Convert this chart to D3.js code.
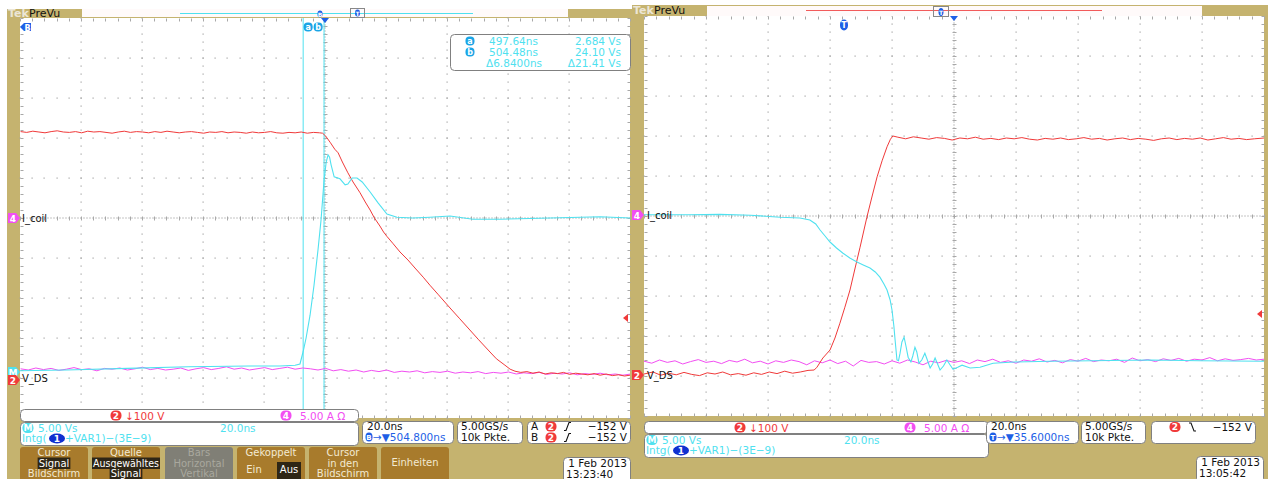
<!DOCTYPE html>
<html>
<head>
<meta charset="utf-8">
<script src="https://cdn.jsdelivr.net/npm/d3@7"></script>
<style>
  body { margin: 0; background: #fff; }
  svg { display: block; }
  text { font-family: "DejaVu Sans", sans-serif; }
</style>
</head>
<body>
<svg id="scope"></svg>
<script>
// ---- values (time in ns, amplitude in divisions) ----
var timePerDiv = 20;
var leftCenterNs = 504.8, rightCenterNs = 35.6;

// left screen, ch2 V_DS (red)
var leftRed = [
    [405,2.16],[407,2.14],[409,2.17],[411,2.15],[413,2.13],[415,2.16],[417,2.18],[419,2.15],[421,2.14],[423,2.16],
    [425,2.13],[427,2.17],[429,2.15],[431,2.16],[433,2.14],[435,2.12],[437,2.15],[439,2.17],[441,2.14],[443,2.16],
    [445,2.15],[447,2.13],[449,2.16],[451,2.14],[453,2.17],[455,2.15],[457,2.13],[459,2.15],[461,2.16],[463,2.14],
    [465,2.12],[467,2.15],[469,2.14],[471,2.16],[473,2.13],[475,2.15],[477,2.14],[479,2.12],[481,2.15],[483,2.13],
    [485,2.14],[487,2.16],[489,2.13],[491,2.12],[493,2.14],[495,2.13],[497,2.15],[499,2.12],[501,2.14],[503,2.13],
    [504,2.12],[505,2.05],[506.6,1.88],[508,1.72],[509.1,1.63],[510.5,1.4],[512.3,1.13],[514,0.9],[516.3,0.63],
    [518,0.4],[519.6,0.2],[521,0.0],[522.8,-0.2],[524,-0.35],[525.1,-0.46],[527,-0.63],[529.4,-0.85],[532,-1.05],
    [534.3,-1.25],[537,-1.48],[539.2,-1.68],[542,-1.92],[545.8,-2.25],[549,-2.52],[552.3,-2.8],[555,-3.03],
    [558.9,-3.35],[561,-3.52],[563.8,-3.68],[565.5,-3.78],[567.1,-3.83],
    [569,-3.86],[571,-3.84],[573,-3.88],[575,-3.85],[577,-3.9],[579,-3.87],[581,-3.89],[583,-3.86],[585,-3.91],
    [587,-3.88],[589,-3.9],[591,-3.92],[593,-3.89],[595,-3.93],[597,-3.9],[599,-3.94],[601,-3.92],[603,-3.95],[604.8,-3.93]
];
// left screen, math Intg(...) (cyan)
var leftCyan = [
    [404.8,-3.82],[420,-3.8],[440,-3.76],[460,-3.72],[480,-3.7],[490,-3.7],[495,-3.68],[496.6,-3.65],[497.6,-3.35],
    [498.6,-3.0],[499.9,-2.43],[501.2,-1.68],[502.5,-0.8],[503.5,-0.05],[504.5,0.95],[505.2,1.4],[505.8,1.58],
    [506.3,1.52],[506.8,1.33],[507.8,1.03],[509.7,0.98],[511.4,0.83],[512.3,0.85],[513.7,1.0],[515.3,1.0],[517,0.9],
    [519.6,0.65],[522.2,0.38],[525.1,0.1],[528.4,0.02],[533.6,0.0],[539.2,0.02],[545.8,0.05],[553.3,-0.03],
    [562.2,-0.03],[578.6,0.0],[595,0.03],[604.8,0.0]
];
// left screen, ch4 I_coil (magenta), one sample every 2.5 ns from 405 ns
var magStep = 2.5;
var leftMagStart = 405;
var leftMag = [
    -3.77,-3.8,-3.75,-3.79,-3.76,-3.81,-3.78,-3.74,-3.79,-3.77,-3.82,-3.76,-3.78,-3.75,-3.8,-3.77,-3.73,-3.79,-3.76,-3.8,
    -3.78,-3.75,-3.81,-3.77,-3.74,-3.79,-3.76,-3.72,-3.78,-3.75,-3.8,-3.77,-3.74,-3.79,-3.76,-3.73,-3.78,-3.75,-3.77,
    -3.8,-3.76,-3.82,-3.79,-3.83,-3.8,-3.85,-3.81,-3.84,-3.8,-3.86,-3.83,-3.85,-3.82,-3.87,-3.84,-3.86,-3.83,-3.88,-3.85,
    -3.87,-3.84,-3.89,-3.86,-3.88,-3.85,-3.9,-3.87,-3.89,-3.86,-3.91,-3.88,-3.9,-3.87,-3.92,-3.89,-3.91,-3.88,-3.92,-3.9,
    -3.93,-3.9
];

// right screen, ch2 V_DS (red)
var rightRed = [
    [-64.4,-3.95],[-61.5,-3.9],[-59,-3.98],[-56.5,-3.93],[-54,-3.97],[-51.5,-3.91],[-49,-3.96],[-46.5,-3.99],[-44,-3.92],
    [-41.5,-3.95],[-39,-3.9],[-36.5,-3.97],[-34,-3.94],[-31.5,-3.98],[-29,-3.92],[-26.5,-3.96],[-24,-3.9],[-21.5,-3.94],
    [-19,-3.88],[-16.5,-3.93],[-14,-3.9],[-11.5,-3.86],
    [-9.5,-3.85],[-8.6,-3.78],[-6.7,-3.55],[-4.4,-3.35],[-2.8,-3.05],[-1.2,-2.68],[0.4,-2.28],[2.05,-1.85],[3.7,-1.3],
    [5.3,-0.78],[7.5,-0.03],[9.2,0.5],[10.8,0.98],[12.4,1.38],[14.0,1.73],[15.1,1.92],[15.9,2.0],
    [17.5,1.97],[20,1.93],[22.5,1.98],[25,1.95],[27.5,1.92],[30,1.96],[32.5,1.94],[35,1.9],[37.5,1.95],[40,1.93],
    [42.5,1.97],[45,1.92],[47.5,1.94],[50,1.91],[52.5,1.95],[55,1.93],[57.5,1.96],[60,1.92],[62.5,1.9],[65,1.94],
    [67.5,1.92],[70,1.95],[72.5,1.91],[75,1.93],[77.5,1.96],[80,1.92],[82.5,1.94],[85,1.9],[87.5,1.93],[90,1.95],
    [92.5,1.91],[95,1.94],[97.5,1.92],[100,1.89],[102.5,1.93],[105,1.95],[107.5,1.91],[110,1.94],[112.5,1.92],[115,1.95],
    [117.5,1.9],[120,1.93],[122.5,1.96],[125,1.92],[127.5,1.94],[130,1.91],[132.5,1.93],[135.6,1.95]
];
// right screen, math (cyan)
var rightCyan = [
    [-64.4,0.03],[-50,0.03],[-40,0.04],[-30,0.02],[-20.5,-0.03],[-14.1,-0.05],[-10.9,-0.1],[-9,-0.2],[-7.6,-0.35],
    [-6,-0.5],[-4.4,-0.65],[-2.3,-0.8],[-0.2,-0.93],[2,-1.05],[4.3,-1.15],[6.5,-1.23],[8.5,-1.3],[10.2,-1.4],
    [11.7,-1.53],[13,-1.7],[14.0,-1.85],[15,-2.1],[15.6,-2.35],[16.2,-2.75],[16.6,-3.1],[17.2,-3.6],[17.7,-3.62],
    [18.2,-3.43],[18.8,-3.15],[19.5,-3.03],[20.1,-3.25],[20.8,-3.53],[21.7,-3.65],[22.3,-3.5],[23.0,-3.28],[23.6,-3.4],
    [24.3,-3.68],[25.2,-3.6],[26.2,-3.43],[27,-3.6],[27.9,-3.8],[28.7,-3.7],[29.5,-3.55],[30.3,-3.7],[31.1,-3.85],
    [32.2,-3.75],[33.3,-3.6],[34.3,-3.72],[35.3,-3.83],[36.8,-3.78],[38.2,-3.73],[40.8,-3.8],[44.0,-3.78],[48.2,-3.68],
    [55,-3.65],[66.6,-3.63],[80,-3.62],[98.8,-3.6],[115,-3.62],[135.6,-3.63]
];
// right screen, ch4 (magenta), one sample every 2.5 ns from -64.4 ns
var rightMagStart = -64.4;
var rightMag = [
    -3.63,-3.68,-3.6,-3.66,-3.62,-3.7,-3.64,-3.59,-3.66,-3.63,-3.69,-3.61,-3.65,-3.58,-3.67,-3.63,-3.7,-3.62,-3.66,-3.6,
    -3.64,-3.72,-3.62,-3.67,-3.6,-3.69,-3.63,-3.75,-3.61,-3.66,-3.64,-3.7,-3.62,-3.68,-3.6,-3.65,-3.72,-3.63,-3.67,-3.61,
    -3.66,-3.62,-3.69,-3.6,-3.64,-3.58,-3.66,-3.62,-3.68,-3.6,-3.63,-3.57,-3.65,-3.61,-3.67,-3.59,-3.63,-3.56,-3.64,-3.6,
    -3.62,-3.58,-3.66,-3.55,-3.62,-3.59,-3.64,-3.57,-3.61,-3.56,-3.63,-3.58,-3.6,-3.54,-3.62,-3.57,-3.61,-3.59,-3.56,-3.6,
    -3.58
];

// cursors (left screen) and trigger level marks
var cursorNs = [497.64, 504.48];
var cursorRows = [["497.64ns", "2.684 Vs"], ["504.48ns", "24.10 Vs"], ["\u03946.8400ns", "\u039421.41 Vs"]];
var trigLevelDiv = [-2.5, -2.45];
var dates = [["1 Feb  2013", "13:23:40"], ["1 Feb  2013", "13:05:42"]];
var delays = ["\u2192\u25BC504.800ns", "\u2192\u25BC35.6000ns"];

var col = {
    tan: "#c5b36f", btn: "#a87b2c", btnText: "#f3ead2", grey: "#807f76",
    red: "#f03a3a", cyan: "#4fe1ef", mag: "#f24ef2", blue: "#1e5fe6",
    dot: "#a4a4a4", box: "#808080", text: "#111"
};

var svg = d3.select("#scope").attr("width", 1268).attr("height", 479);

// tan frames
svg.append("rect").attr("x", 7).attr("y", 9).attr("width", 625).attr("height", 470).attr("fill", col.tan);
svg.append("rect").attr("x", 632).attr("y", 5).attr("width", 636).attr("height", 474).attr("fill", col.tan);

var panels = [
    {x0: 20, y0: 18, w: 610, h: 400, tc: leftCenterNs, red: leftRed, cyan: leftCyan, mag: leftMag, magStart: leftMagStart, trig: trigLevelDiv[0]},
    {x0: 644, y0: 16, w: 620, h: 400, tc: rightCenterNs, red: rightRed, cyan: rightCyan, mag: rightMag, magStart: rightMagStart, trig: trigLevelDiv[1]}
];

function drawPanel(p, k) {
    var g = svg.append("g");
    var x = d3.scaleLinear().domain([p.tc - 5 * timePerDiv, p.tc + 5 * timePerDiv]).range([p.x0, p.x0 + p.w]);
    var y = d3.scaleLinear().domain([-5, 5]).range([p.y0 + p.h, p.y0]);
    p.x = x; p.y = y;

    g.append("rect").attr("x", p.x0).attr("y", p.y0).attr("width", p.w).attr("height", p.h).attr("fill", "#fff");

    // graticule: dotted major lines, ticked centre cross, edge ticks
    var t0 = p.tc - 5 * timePerDiv;
    var minorT = d3.range(0, 51).map(function (i) { return t0 + i * timePerDiv / 5; });
    var minorV = d3.range(0, 51).map(function (i) { return -5 + i * 0.2; });
    var dots = [];
    d3.range(1, 10).forEach(function (i) {
        if (i === 5) return;
        var tx = x(t0 + i * timePerDiv);
        minorV.forEach(function (v) { dots.push([tx, y(v)]); });
    });
    d3.range(-4, 5).forEach(function (v) {
        if (v === 0) return;
        minorT.forEach(function (t) { dots.push([x(t), y(v)]); });
    });
    g.selectAll(".dot").data(dots).enter().append("rect")
        .attr("x", function (d) { return Math.round(d[0]) - 0.5; })
        .attr("y", function (d) { return Math.round(d[1]) - 0.5; })
        .attr("width", 1.2).attr("height", 1.2).attr("fill", col.dot);

    var cx = x(p.tc), cy = y(0);
    g.append("line").attr("x1", p.x0).attr("x2", p.x0 + p.w).attr("y1", cy).attr("y2", cy)
        .attr("stroke", "#c4c4c4").attr("stroke-dasharray", "2,1");
    g.append("line").attr("x1", cx).attr("x2", cx).attr("y1", p.y0).attr("y2", p.y0 + p.h)
        .attr("stroke", "#c4c4c4").attr("stroke-dasharray", "2,1");
    var ticks = [];
    minorT.forEach(function (t) {
        ticks.push([x(t), cy - 2, x(t), cy + 2]);
        ticks.push([x(t), p.y0, x(t), p.y0 + 3]);
        ticks.push([x(t), p.y0 + p.h - 3, x(t), p.y0 + p.h]);
    });
    minorV.forEach(function (v) {
        ticks.push([cx - 2, y(v), cx + 2, y(v)]);
        ticks.push([p.x0, y(v), p.x0 + 3, y(v)]);
        ticks.push([p.x0 + p.w - 3, y(v), p.x0 + p.w, y(v)]);
    });
    g.selectAll(".tick").data(ticks).enter().append("line")
        .attr("x1", function (d) { return Math.round(d[0]) + 0.5; })
        .attr("y1", function (d) { return Math.round(d[1]) + 0.5; })
        .attr("x2", function (d) { return Math.round(d[2]) + 0.5; })
        .attr("y2", function (d) { return Math.round(d[3]) + 0.5; })
        .attr("stroke", "#a8a8a8").attr("stroke-width", 1);

    // traces
    var clipId = "clip" + k;
    svg.append("clipPath").attr("id", clipId).append("rect")
        .attr("x", p.x0).attr("y", p.y0).attr("width", p.w).attr("height", p.h);
    var tg = g.append("g").attr("clip-path", "url(#" + clipId + ")");

    var line = d3.line().x(function (d) { return x(d[0]); }).y(function (d) { return y(d[1]); });
    var magPts = p.mag.map(function (v, i) { return [p.magStart + i * magStep, v]; });

    if (k === 0) {
        cursorNs.forEach(function (t) {
            tg.append("line").attr("x1", x(t)).attr("x2", x(t)).attr("y1", p.y0).attr("y2", p.y0 + p.h)
                .attr("stroke", col.cyan).attr("stroke-width", 1);
        });
    }
    tg.append("path").attr("d", line(magPts)).attr("fill", "none").attr("stroke", col.mag).attr("stroke-width", 1);
    tg.append("path").attr("d", line(p.red)).attr("fill", "none").attr("stroke", col.red).attr("stroke-width", 1);
    tg.append("path").attr("d", line(p.cyan)).attr("fill", "none").attr("stroke", col.cyan).attr("stroke-width", 1.1);

    // trigger position mark and trigger level arrow
    g.append("path").attr("d", "M" + (cx - 4) + "," + p.y0 + " h8 l-4,5 z").attr("fill", col.blue);
    var ty = y(p.trig), rx = p.x0 + p.w;
    g.append("path").attr("d", "M" + (rx - 7) + "," + ty + " l5,-4 v8 z").attr("fill", col.red);
    return g;
}

function badge(g, cx, cy, label, fill, w, h, fs) {
    w = w || 11; h = h || 10;
    g.append("rect").attr("x", cx - w / 2).attr("y", cy - h / 2).attr("width", w).attr("height", h)
        .attr("rx", h / 2.2).attr("fill", fill);
    g.append("text").attr("x", cx).attr("y", cy + 3.4).attr("text-anchor", "middle")
        .attr("font-size", fs || 9).attr("font-weight", "bold").attr("fill", "#fff").text(label);
}

function txt(g, x, y, s, fill, size, anchor) {
    return g.append("text").attr("x", x).attr("y", y).attr("fill", fill || col.text)
        .attr("font-size", size || 10).attr("text-anchor", anchor || "start").text(s);
}

function box(g, x, y, w, h) {
    g.append("rect").attr("x", x + 0.5).attr("y", y + 0.5).attr("width", w).attr("height", h)
        .attr("rx", 4).attr("fill", "#fff").attr("stroke", col.box);
}

function chMarker(g, x, cy, fill, label) {
    g.append("path").attr("d", "M" + x + "," + (cy - 5) + " h8 l4,5 l-4,5 h-8 z").attr("fill", fill);
    g.append("text").attr("x", x + 5).attr("y", cy + 3.5).attr("text-anchor", "middle")
        .attr("font-size", 9).attr("font-weight", "bold").attr("fill", "#fff").text(label);
}

function edgeIcon(g, x, y, rising) {
    var d = rising ? "M" + x + "," + (y + 4) + " h2 l3,-8 h2" : "M" + x + "," + (y - 4) + " h2 l3,8 h2";
    g.append("path").attr("d", d).attr("fill", "none").attr("stroke", "#111").attr("stroke-width", 1.1);
}

panels.forEach(function (p, k) { drawPanel(p, k); });

var overlay = svg.append("g");
// ---- top record bars ----
[[8, 17, 82, 9, 486, 8], [633, 14, 707, 6, 495, 10]].forEach(function (b, k) {
    txt(overlay, b[0], b[1], "Tek", "#ece6d6", 11).attr("font-weight", "bold");
    txt(overlay, b[0] + 21, b[1], "PreVu", "#111", 11);
    overlay.append("rect").attr("x", b[2]).attr("y", b[3]).attr("width", b[4]).attr("height", b[5]).attr("fill", "#fffafa");
});
overlay.append("line").attr("x1", 180).attr("x2", 473).attr("y1", 13.5).attr("y2", 13.5).attr("stroke", col.cyan);
overlay.append("rect").attr("x", 350.5).attr("y", 8.5).attr("width", 14).attr("height", 9).attr("fill", "none").attr("stroke", "#888");
badge(overlay, 357.5, 13, "T", col.blue, 5, 7, 6);
badge(overlay, 320, 14, "B", col.blue, 5, 7, 6);
overlay.append("line").attr("x1", 806).attr("x2", 1102).attr("y1", 10.5).attr("y2", 10.5).attr("stroke", "#f25a5a").attr("stroke-width", 1.2);
overlay.append("rect").attr("x", 933.5).attr("y", 6.5).attr("width", 15).attr("height", 10).attr("fill", "none").attr("stroke", "#888");
badge(overlay, 941, 12, "T", col.blue, 5, 8, 6);

// ---- markers on screens ----
var L = panels[0], R = panels[1];
overlay.append("path").attr("d", "M20,27 l4,-4 h7 v8 h-7 z").attr("fill", col.blue);
txt(overlay, 27.5, 30.5, "B", "#fff", 8, "middle").attr("font-weight", "bold");
badge(overlay, L.x(cursorNs[0]) + 5, 27, "a", "#1aa5e6", 9, 9, 8);
badge(overlay, L.x(cursorNs[0]) + 15, 27, "b", "#1aa5e6", 9, 9, 8);
badge(overlay, 844, 25, "T", col.blue, 8, 11, 8);

chMarker(overlay, 8, L.y(0), col.mag, "4");
txt(overlay, 22, L.y(0) + 4, "I_coil", "#111", 10);
chMarker(overlay, 8, 372, col.cyan, "M");
chMarker(overlay, 8, 380, col.red, "2");
txt(overlay, 22, 382, "V_DS", "#111", 10);
chMarker(overlay, 632, R.y(0) - 1, col.mag, "4");
txt(overlay, 647, R.y(0) + 3, "I_coil", "#111", 10);
chMarker(overlay, 632, 375, col.red, "2");
txt(overlay, 647, 379, "V_DS", "#111", 10);

// cursor readout
box(overlay, 450, 34, 180, 36);
cursorRows.forEach(function (r, i) {
    var yy = 41 + i * 11;
    if (i < 2) badge(overlay, 470, yy, i === 0 ? "a" : "b", "#1aa5e6", 9, 9, 8);
    txt(overlay, i < 2 ? 489 : 486, yy + 3.7, r[0], col.cyan, 10.5);
    txt(overlay, 621, yy + 3.7, r[1], col.cyan, 10.5, "end");
});

// ---- bottom readouts ----
function readouts(ox, chY, mathY, k) {
    var b = svg.append("g");
    box(b, ox, chY, ox === 20 ? 338 : 344, 12);
    badge(b, ox + 96, chY + 6.5, "2", col.red, 11, 10);
    txt(b, ox + 105, chY + 10.5, "\u2193100 V", col.red, 10.5);
    badge(b, ox + 266, chY + 6.5, "4", col.mag, 11, 10);
    txt(b, ox + 280, chY + 10.5, "5.00 A \u03A9", col.mag, 10.5);

    box(b, ox, mathY, ox === 20 ? 338 : 344, 23);
    badge(b, ox + 8, mathY + 6, "M", col.cyan, 11, 10);
    txt(b, ox + 18, mathY + 9.5, "5.00 Vs", col.cyan, 10.5);
    txt(b, ox + 200, mathY + 9.5, "20.0ns", col.cyan, 10.5);
    txt(b, ox + 2, mathY + 20, "Intg(", col.cyan, 10.5);
    b.append("ellipse").attr("cx", ox + 37).attr("cy", mathY + 16.5).attr("rx", 8).attr("ry", 5).attr("fill", "#1030d0");
    txt(b, ox + 37, mathY + 20, "1", "#fff", 9, "middle").attr("font-weight", "bold");
    txt(b, ox + 45, mathY + 20, "+VAR1)\u2212(3E\u22129)", col.cyan, 10.5);

    var hx = ox + 342;
    box(b, hx, 421, ox === 20 ? 91 : 92, 22);
    txt(b, hx + 5, 430, "20.0ns", "#111", 10.5);
    badge(b, hx + 7, 437, k === 0 ? "B" : "T", col.blue, 7, 9, 7);
    txt(b, hx + 11, 441, delays[k], col.blue, 10.5);

    var ax = ox + 437;
    box(b, ax, 421, ox === 20 ? 65 : 64, 22);
    txt(b, ax + 4, 430, "5.00GS/s", "#111", 10.5);
    txt(b, ax + 4, 441, "10k Pkte.", "#111", 10.5);

    var tx = ox + 507;
    box(b, tx, 421, ox === 20 ? 103 : 104, 22);
    if (k === 0) {
        ["A", "B"].forEach(function (s, i) {
            var yy = 426.5 + i * 11;
            txt(b, tx + 4, yy + 3.5, s, "#111", 10.5);
            badge(b, tx + 24, yy, "2", col.red, 11, 10);
            edgeIcon(b, tx + 37, yy, true);
            txt(b, tx + 100, yy + 3.5, "\u2212152 V", "#111", 10.5, "end");
        });
    } else {
        badge(b, tx + 24, 427, "2", col.red, 11, 10);
        edgeIcon(b, tx + 38, 427, false);
        txt(b, tx + 101, 430.5, "\u2212152 V", "#111", 10.5, "end");
    }

    var dx = ox === 20 ? 563 : 1196;
    var dy = ox === 20 ? 457 : 456;
    box(b, dx, dy, 67, 26);
    txt(b, dx + 64, dy + 10, dates[k][0], "#111", 10.5, "end");
    txt(b, dx + 3, dy + 21, dates[k][1], "#111", 10.5);
}
readouts(20, 409, 422, 0);
readouts(644, 421, 434, 1);

// ---- soft keys (left screen) ----
var buttons = [
    {x: 20, lines: ["Cursor", "Signal", "Bildschirm"], hl: [1]},
    {x: 92, lines: ["Quelle", "Ausgew\u00e4hltes", "Signal"], hl: [1, 2]},
    {x: 165, lines: ["Bars", "Horizontal", "Vertikal"], hl: [], grey: true},
    {x: 237, lines: ["Gekoppelt"], hl: [], pair: ["Ein", "Aus"]},
    {x: 309, lines: ["Cursor", "in den", "Bildschirm"], hl: []},
    {x: 381, lines: ["Einheiten"], hl: []}
];
var bg = svg.append("g");
buttons.forEach(function (b) {
    bg.append("rect").attr("x", b.x).attr("y", 447).attr("width", 68).attr("height", 36).attr("rx", 3)
        .attr("fill", b.grey ? col.grey : col.btn);
    var cx = b.x + 34;
    var rows = b.lines.length === 1 && !b.pair ? [466] : [455.5, 466.5, 477];
    b.lines.forEach(function (s, i) {
        var hl = b.hl.indexOf(i) >= 0;
        var t = txt(bg, cx, rows[i], s, b.grey ? "#a9a89e" : col.btnText, 10, "middle");
        if (s.length > 11) t.attr("textLength", 66).attr("lengthAdjust", "spacingAndGlyphs");
        if (hl) {
            var bb = t.node().getBBox();
            bg.insert("rect", function () { return t.node(); })
                .attr("x", bb.x - 1).attr("y", rows[i] - 9).attr("width", bb.width + 2).attr("height", 11.5)
                .attr("fill", "#2e2616");
            t.attr("fill", "#fff");
        }
    });
    if (b.pair) {
        txt(bg, b.x + 17, 473, b.pair[0], col.btnText, 10, "middle");
        bg.append("rect").attr("x", b.x + 40).attr("y", 462).attr("width", 24).attr("height", 18).attr("fill", "#2e2616");
        txt(bg, b.x + 52, 473, b.pair[1], "#fff", 10, "middle");
    }
});
</script>
</body>
</html>
